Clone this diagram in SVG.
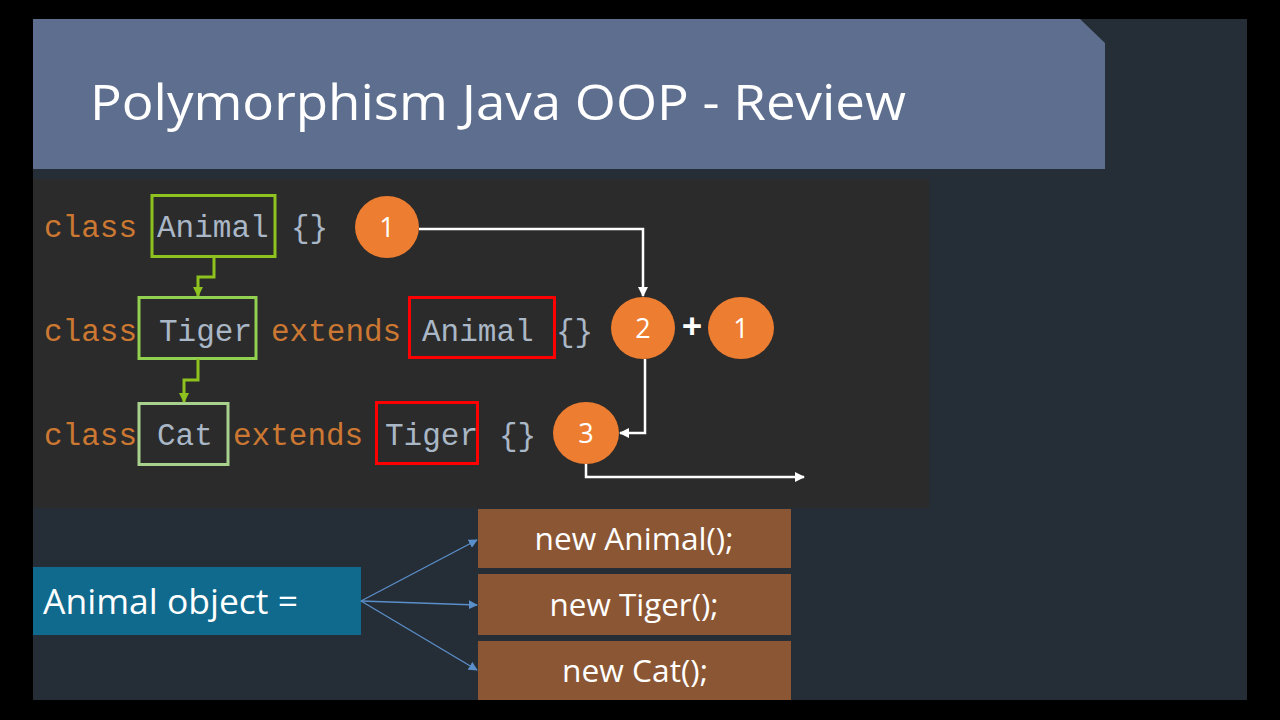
<svg xmlns="http://www.w3.org/2000/svg" width="1280" height="720" viewBox="0 0 1280 720">
<defs>
<style>
.code{font-family:"Liberation Mono","DejaVu Sans Mono",monospace;font-size:31px}
.kw{fill:#cc7832}
.id{fill:#a9b7c6}
.num{font-family:"Open Sans","Liberation Sans",sans-serif;font-size:27px;fill:#ffffff;text-anchor:middle}
.circ{fill:#ed7d31}
.wl{fill:none;stroke:#ffffff;stroke-width:2.5}
.bl{fill:none;stroke:#5b8fc9;stroke-width:1.3}
.brown{fill:#8b5633}
.bt{font-family:"Open Sans","Liberation Sans",sans-serif;font-size:31px;fill:#ffffff;text-anchor:middle}
</style>
<marker id="aw" viewBox="0 0 10 10" refX="9" refY="5" markerWidth="4" markerHeight="4" orient="auto" markerUnits="strokeWidth"><path d="M0,0 L10,5 L0,10 z" fill="#ffffff"/></marker>
<marker id="ag" viewBox="0 0 10 10" refX="9" refY="5" markerWidth="3.5" markerHeight="3.5" orient="auto" markerUnits="strokeWidth"><path d="M0,0 L10,5 L0,10 z" fill="#8dc21f"/></marker>
<marker id="ab" viewBox="0 0 10 10" refX="9" refY="5" markerWidth="7" markerHeight="7" orient="auto" markerUnits="strokeWidth"><path d="M0,0 L10,5 L0,10 z" fill="#5b8fc9"/></marker>
</defs>
<rect x="0" y="0" width="1280" height="720" fill="#000000"/>
<rect x="33" y="19" width="1214" height="681" fill="#252d37"/>
<g id="title">
<path d="M33,19 H1080 L1105,43 V169 H33 Z" fill="#5d6e8e"/>
<text x="90" y="120" font-family="Open Sans, Liberation Sans, sans-serif" font-size="50" fill="#ffffff" textLength="816" lengthAdjust="spacingAndGlyphs">Polymorphism Java OOP - Review</text>
</g>
<g id="code-panel">
<rect x="33" y="179" width="896" height="329" fill="#2b2b2b"/>
</g>
<g id="row1" class="code">
<text x="44" y="237" class="kw">class</text>
<text x="157" y="237" class="id">Animal</text>
<text x="291" y="237" class="id">{}</text>
<rect x="152" y="195.5" width="123" height="61" fill="none" stroke="#8dc21f" stroke-width="3"/>
</g>
<g id="row2" class="code">
<text x="44" y="341" class="kw">class</text>
<text x="159" y="341" class="id">Tiger</text>
<text x="271" y="341" class="kw">extends</text>
<text x="422" y="341" class="id">Animal</text>
<text x="556" y="341" class="id">{}</text>
<rect x="139" y="297.5" width="117" height="61" fill="none" stroke="#92d050" stroke-width="3"/>
<rect x="409.5" y="297.5" width="145" height="60" fill="none" stroke="#ff0000" stroke-width="3"/>
</g>
<g id="row3" class="code">
<text x="44" y="445" class="kw">class</text>
<text x="157" y="445" class="id">Cat</text>
<text x="233" y="445" class="kw">extends</text>
<text x="385" y="445" class="id">Tiger</text>
<text x="499" y="445" class="id">{}</text>
<rect x="139" y="403.5" width="89" height="61" fill="none" stroke="#a9d18e" stroke-width="3"/>
<rect x="376.5" y="402.5" width="101" height="61" fill="none" stroke="#ff0000" stroke-width="3"/>
</g>
<g id="c1"><ellipse cx="387" cy="227" rx="32" ry="31" class="circ"/><text x="387" y="237" class="num">1</text></g>
<g id="c2"><ellipse cx="643" cy="328" rx="32" ry="31" class="circ"/><text x="643" y="338" class="num">2</text></g>
<g id="plus"><text x="692" y="339" font-family="Open Sans, Liberation Sans, sans-serif" font-size="36" font-weight="bold" fill="#ffffff" text-anchor="middle">+</text></g>
<g id="c1b"><ellipse cx="741" cy="328" rx="33" ry="31" class="circ"/><text x="741" y="338" class="num">1</text></g>
<g id="c3"><ellipse cx="586" cy="433" rx="33" ry="31" class="circ"/><text x="586" y="443" class="num">3</text></g>
<g id="lhs">
<rect x="33" y="567" width="328" height="68" fill="#106a8e"/>
<text x="43" y="614" font-family="Open Sans, Liberation Sans, sans-serif" font-size="35" fill="#ffffff" textLength="255" lengthAdjust="spacingAndGlyphs">Animal object =</text>
</g>
<g id="b1"><rect x="478" y="509" width="313" height="59" class="brown"/><text x="634" y="550" class="bt" textLength="199" lengthAdjust="spacingAndGlyphs">new Animal();</text></g>
<g id="b2"><rect x="478" y="574" width="313" height="61" class="brown"/><text x="634" y="616" class="bt" textLength="169" lengthAdjust="spacingAndGlyphs">new Tiger();</text></g>
<g id="b3"><rect x="478" y="641" width="313" height="59" class="brown"/><text x="635" y="682" class="bt" textLength="146" lengthAdjust="spacingAndGlyphs">new Cat();</text></g>
<g id="connectors">
<path d="M214,257 V277 H198 V296" fill="none" stroke="#8dc21f" stroke-width="3" marker-end="url(#ag)"/>
<path d="M198,359 V380 H184 V402" fill="none" stroke="#8dc21f" stroke-width="3" marker-end="url(#ag)"/>
<path d="M419,229 H643 V296" class="wl" marker-end="url(#aw)"/>
<path d="M645,359 V433 H620" class="wl" marker-end="url(#aw)"/>
<path d="M586,464 V477 H804" class="wl" marker-end="url(#aw)"/>
<path d="M361,601 L477,540" class="bl" marker-end="url(#ab)"/>
<path d="M361,601 L477,605" class="bl" marker-end="url(#ab)"/>
<path d="M361,601 L477,670" class="bl" marker-end="url(#ab)"/>
</g>
</svg>
